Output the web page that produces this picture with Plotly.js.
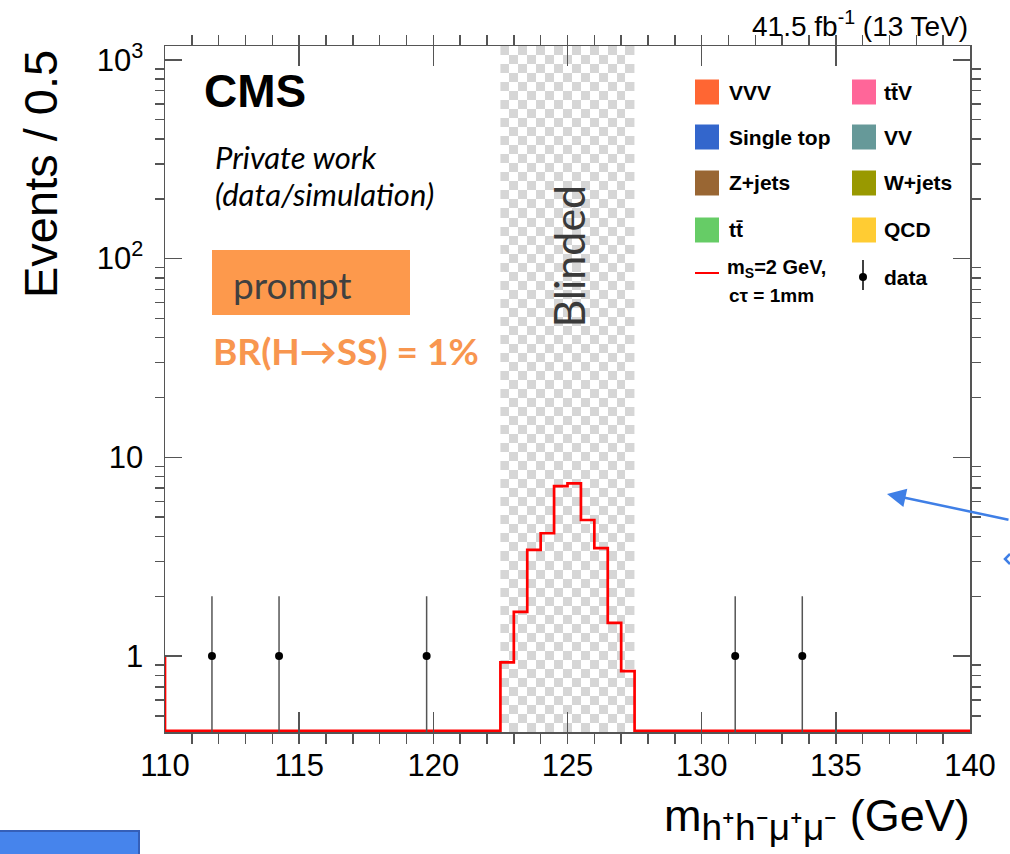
<!DOCTYPE html>
<html>
<head>
<meta charset="utf-8">
<script src="https://cdn.plot.ly/plotly-3.0.1.min.js"></script>
<style>html,body{margin:0;padding:0;background:#fff;}#chart{width:1010px;height:854px;}</style>
</head>
<body>
<div id="chart"></div>
<script>
// ---------------- data ----------------
const xRange = [110, 140];
const binWidth = 0.5;
const signalLowEdges = [122.5, 123.0, 123.5, 124.0, 124.5, 125.0, 125.5, 126.0, 126.5, 127.0];
const signalCounts   = [0.93, 1.67, 3.42, 4.15, 7.16, 7.39, 4.84, 3.49, 1.47, 0.84];
const dataX = [111.75, 114.25, 119.75, 131.25, 133.75];
const dataY = [1, 1, 1, 1, 1];
const dataErr = [1, 1, 1, 1, 1];
const blindedRange = [122.5, 127.5];
const edgeSpikeX = [110, 110];
const edgeSpikeTop = 1;
const xTickVals = [110, 115, 120, 125, 130, 135, 140];
const yTickVals = [1, 10, 100, 1000];
const yTickText = ['1', '10', '10<sup>2</sup>', '10<sup>3</sup>'];
const yMinorVals = [0.5,0.6,0.7,0.8,0.9,2,3,4,5,6,7,8,9,20,30,40,50,60,70,80,90,200,300,400,500,600,700,800,900];
const legendNames  = ['VVV', 'tt\u0304V', 'Single top', 'VV', 'Z+jets', 'W+jets', 'tt\u0304', 'QCD'];
const legendColors = ['#ff6633', '#ff6699', '#3366cc', '#669999', '#996633', '#999900', '#66cc66', '#ffcc33'];

// ---------------- geometry helpers ----------------
const L = 165, R = 970, T = 46, B = 732;
const yLogRange = [-0.382, 3.070];
function px(x) { return (x - L) / (R - L); }
function py(y) { return (B - y) / (B - T); }

// ---------------- build signal step histogram ----------------
const floorVal = Math.pow(10, yLogRange[0]) * 1.012;
const nBins = Math.round((xRange[1] - xRange[0]) / binWidth);
const stepX = [], stepY = [];
for (let i = 0; i < nBins; i++) {
  const lo = xRange[0] + i * binWidth;
  const k = signalLowEdges.findIndex(v => Math.abs(v - lo) < 1e-6);
  stepX.push(lo);
  stepY.push(k >= 0 ? signalCounts[k] : floorVal);
}
stepX.push(xRange[1]); stepY.push(floorVal);

// ---------------- checker texture for blinded region ----------------
const nCols = 15, nRows = 76;
const cw = (blindedRange[1] - blindedRange[0]) / nCols;
const checker = [];
for (let r = 0; r < nRows; r++) {
  const row = [];
  for (let c = 0; c < nCols; c++) row.push((r + c) % 2);
  checker.push(row);
}

const HELV = 'Liberation Sans, Arial, Helvetica, sans-serif';
const CAL = 'Lato, Carlito, Calibri, sans-serif';

const traces = [
  {
    type: 'heatmap', z: checker, x0: blindedRange[0] + cw / 2, dx: cw, y0: 0.5, dy: 1,
    xaxis: 'x', yaxis: 'y',
    colorscale: [[0, 'rgba(255,255,255,0)'], [1, '#d6d6d6']], showscale: false, hoverinfo: 'skip', zsmooth: false
  },
  {
    type: 'scatter', mode: 'lines', x: stepX, y: stepY, xaxis: 'x', yaxis: 'y2',
    line: { color: '#ff0000', width: 2.7, shape: 'hv' }, hoverinfo: 'skip', showlegend: false
  },
  {
    type: 'scatter', mode: 'lines', x: edgeSpikeX, y: [floorVal, edgeSpikeTop], xaxis: 'x', yaxis: 'y2',
    line: { color: '#ff0000', width: 2.7 }, hoverinfo: 'skip', showlegend: false
  },
  {
    type: 'scatter', mode: 'markers', x: dataX, y: dataY, xaxis: 'x', yaxis: 'y2',
    marker: { color: '#000', size: 8 },
    error_y: { type: 'data', array: dataErr, arrayminus: dataErr.map((e, i) => dataY[i] - 1e-6), color: '#555', thickness: 1.5, width: 0 },
    hoverinfo: 'skip', showlegend: false
  }
];

// ---------------- legend (drawn manually) ----------------
const shapes = [];
const annotations = [];
const colBoxX = [695, 852];
const colTextX = [727, 882];
const rowY = [92, 137, 183, 230];
legendNames.forEach((name, i) => {
  const col = i % 2, row = Math.floor(i / 2);
  const cy = rowY[row];
  shapes.push({ type: 'rect', xref: 'paper', yref: 'paper',
    x0: px(colBoxX[col]), x1: px(colBoxX[col] + 24), y0: py(cy + 12.5), y1: py(cy - 12.5),
    fillcolor: legendColors[i], line: { width: 0 } });
  annotations.push({ xref: 'paper', yref: 'paper', x: px(colTextX[col]), y: py(cy), xanchor: 'left', yanchor: 'middle',
    text: '<b>' + name + '</b>', showarrow: false, font: { family: HELV, size: 21, color: '#000' } });
});
// signal legend entry
shapes.push({ type: 'line', xref: 'paper', yref: 'paper', x0: px(695), x1: px(719), y0: py(273), y1: py(273),
  line: { color: '#ff0000', width: 2 } });
annotations.push({ xref: 'paper', yref: 'paper', x: px(725), y: py(283), xanchor: 'left', yanchor: 'bottom',
  text: '<b>m<sub>S</sub>=2 GeV,</b>', showarrow: false, font: { family: HELV, size: 20, color: '#000' } });
annotations.push({ xref: 'paper', yref: 'paper', x: px(727), y: py(283), xanchor: 'left', yanchor: 'top',
  text: '<b>c\u03c4 = 1mm</b>', showarrow: false, font: { family: HELV, size: 19, color: '#000' } });
// data legend entry
shapes.push({ type: 'line', xref: 'paper', yref: 'paper', x0: px(863), x1: px(863), y0: py(260), y1: py(290),
  line: { color: '#000', width: 1.5 } });
shapes.push({ type: 'circle', xref: 'paper', yref: 'paper', x0: px(859), x1: px(867), y0: py(281), y1: py(273),
  fillcolor: '#000', line: { width: 0 } });
annotations.push({ xref: 'paper', yref: 'paper', x: px(882), y: py(277), xanchor: 'left', yanchor: 'middle',
  text: '<b>data</b>', showarrow: false, font: { family: HELV, size: 21, color: '#000' } });

// ---------------- labels ----------------
annotations.push(
  { xref: 'paper', yref: 'paper', x: px(202), y: py(91), xanchor: 'left', yanchor: 'middle', showarrow: false,
    text: '<b>CMS</b>', font: { family: HELV, size: 46, color: '#000' } },
  { xref: 'paper', yref: 'paper', x: px(213), y: py(157), xanchor: 'left', yanchor: 'middle', showarrow: false,
    text: '<i>Private work</i>', font: { family: CAL, size: 31, color: '#000' } },
  { xref: 'paper', yref: 'paper', x: px(213), y: py(194), xanchor: 'left', yanchor: 'middle', showarrow: false,
    text: '<i>(data/simulation)</i>', font: { family: CAL, size: 31, color: '#000' } },
  { xref: 'paper', yref: 'paper', x: px(231), y: py(284), xanchor: 'left', yanchor: 'middle', showarrow: false,
    text: 'prompt', font: { family: CAL, size: 37, color: '#404040' } },
  { xref: 'paper', yref: 'paper', x: px(211), y: py(350), xanchor: 'left', yanchor: 'middle', showarrow: false,
    text: '<b>BR(H\u2192SS) = 1%</b>', font: { family: CAL, size: 37, color: '#f8964f' } },
  { xref: 'x', yref: 'paper', x: 125.0, y: py(256), xanchor: 'center', yanchor: 'middle', showarrow: false, textangle: -90,
    text: 'Blinded', font: { family: CAL, size: 43, color: '#3a3a3a' } },
  { xref: 'paper', yref: 'paper', x: px(970), y: py(24), xanchor: 'right', yanchor: 'middle', showarrow: false,
    text: '41.5 fb<sup>-1</sup> (13 TeV)', font: { family: HELV, size: 28, color: '#000' } },
  { xref: 'paper', yref: 'paper', x: px(40), y: py(48), xanchor: 'center', yanchor: 'top', showarrow: false, textangle: -90,
    text: 'Events / 0.5', font: { family: HELV, size: 47, color: '#000' } },
  { xref: 'paper', yref: 'paper', x: px(972), y: py(850), xanchor: 'right', yanchor: 'bottom', showarrow: false,
    text: 'm<sub><span style="font-size:37px">h\u207ah\u207b\u03bc\u207a\u03bc\u207b</span></sub> (GeV)', font: { family: HELV, size: 45, color: '#000' } },
  // blue arrow (overlay)
  { xref: 'paper', yref: 'paper', x: px(887), y: py(494), ax: 140, ay: 26, showarrow: true,
    arrowhead: 2, arrowsize: 1.5, arrowwidth: 2.5, arrowcolor: '#3f7fe6', text: '' }
);

// small blue mark at right edge
shapes.push({ type: 'path', xref: 'paper', yref: 'paper',
  path: 'M ' + px(1010) + ' ' + py(554) + ' L ' + px(1005) + ' ' + py(559) + ' L ' + px(1010) + ' ' + py(564),
  line: { color: '#3f7fe6', width: 2.5 } });
// prompt box
shapes.push({ type: 'rect', xref: 'paper', yref: 'paper', x0: px(212), x1: px(410), y0: py(315), y1: py(250),
  fillcolor: '#fd994c', line: { width: 0 }, layer: 'below' });
// blue box at bottom-left
shapes.push({ type: 'rect', xref: 'paper', yref: 'paper', x0: px(-5), x1: px(139), y0: py(860), y1: py(831),
  fillcolor: '#4684ec', line: { color: '#355fb8', width: 2 } });

const axisCommon = {
  showgrid: false, zeroline: false, showline: true, linecolor: '#555', linewidth: 1.5,
  ticks: 'inside', tickcolor: '#555', tickwidth: 1.5, mirror: 'ticks',
  tickfont: { family: HELV, size: 31, color: '#000' }
};

const layout = {
  width: 1010, height: 854,
  margin: { l: L, r: 1010 - R, t: T, b: 854 - B, pad: 0 },
  paper_bgcolor: '#fff', plot_bgcolor: '#fff',
  showlegend: false,
  xaxis: Object.assign({}, axisCommon, {
    range: xRange, tickvals: xTickVals, ticklen: 20, ticklabelstandoff: 5,
    minor: { dtick: 1, tick0: 110, ticklen: 10, tickcolor: '#555', tickwidth: 1.5, showgrid: false }
  }),
  yaxis: { range: [0, nRows], visible: false, fixedrange: true },
  yaxis2: Object.assign({}, axisCommon, {
    type: 'log', range: yLogRange, overlaying: 'y', side: 'left', anchor: 'x',
    tickvals: yTickVals, ticktext: yTickText, ticklen: 17, ticklabelstandoff: 14,
    minor: { tickvals: yMinorVals, ticklen: 9, tickcolor: '#555', tickwidth: 1.5, showgrid: false }
  }),
  shapes: shapes,
  annotations: annotations
};

Plotly.newPlot('chart', traces, layout, { staticPlot: true, displayModeBar: false });
</script>
</body>
</html>
